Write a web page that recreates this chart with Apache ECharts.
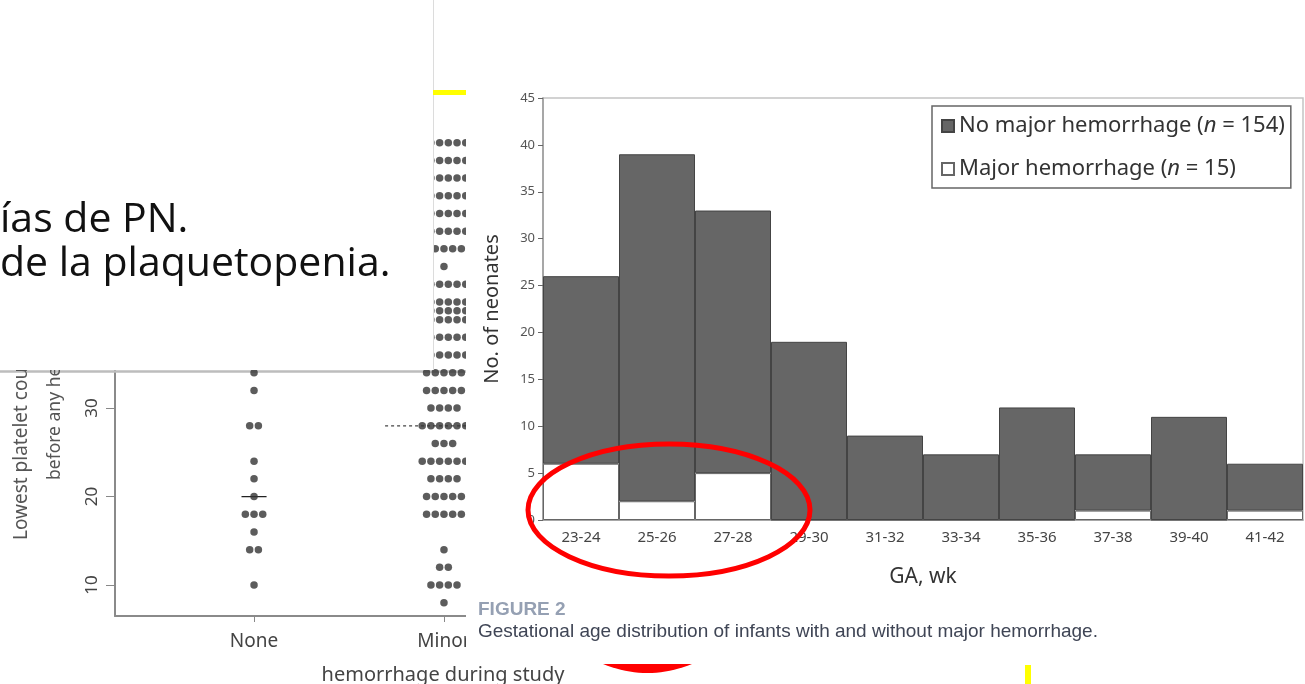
<!DOCTYPE html>
<html><head><meta charset="utf-8">
<script src="https://cdn.jsdelivr.net/npm/echarts@6/dist/echarts.min.js"></script>
<style>html,body{margin:0;padding:0;background:#fff}#c{width:1305px;height:684px}</style>
</head><body><div id="c"></div>
<script>
// ---- Histogram data (Figure 2) ----
const gaBins = ['23-24','25-26','27-28','29-30','31-32','33-34','35-36','37-38','39-40','41-42'];
const noMajor = [20,37,28,19,9,7,12,6,11,5];
const major = [6,2,5,0,0,0,0,1,0,1];
const histYTicks = [0,45,5]; // min, max, step
// ---- Dot plot data (lowest platelet count by hemorrhage group) ----
const dotGroups = ['None','Minor'];
const noneValues = [34,32,28,24,22,20,18,16,14,10];
const noneCounts = [1,1,2,1,1,1,3,1,2,1];
const minorValues = [60,58,56,54,52,50,48,46,44,42,41,40,38,36,34,32,30,28,26,24,22,20,18,14,12,10,8];
const minorCounts = [6,6,6,6,6,6,5,1,6,6,6,6,6,6,5,5,4,6,3,6,4,5,5,1,2,4,1];
const medians = [20,28];
const dotYTicks = [10,20,30,40,50,60];

const sum = a => a.reduce((s,v)=>s+v,0);
const DX = 0.0458;
function swarm(center, vals, counts){
  const out=[];
  vals.forEach((v,i)=>{const n=counts[i];for(let k=0;k<n;k++)out.push([center+(k-(n-1)/2)*DX,v]);});
  return out;
}
const noneDots = swarm(1,noneValues,noneCounts);
const minorDots = swarm(2,minorValues,minorCounts);

// red lens shape (annotation fragment at the bottom)
const lens=[];
for(let i=0;i<=20;i++){const t=i/20;const x=603+(692-603)*t;lens.push([x,664+9*4*t*(1-t)]);}

const chart = echarts.init(document.getElementById('c'));
const nameNo='No major hemorrhage', nameMaj='Major hemorrhage';
const NS='"Noto Sans", "Open Sans", sans-serif';
const LIB='"Liberation Sans", Arial, sans-serif';

chart.setOption({
  animation:false,
  backgroundColor:'#fff',
  grid:[
    {left:115,right:839,top:125,bottom:68},
    {left:543,right:2,top:98,bottom:164,show:true,borderColor:'#c4c4c4',borderWidth:1.5,backgroundColor:'transparent'}
  ],
  legend:{
    data:[nameNo,nameMaj], orient:'vertical', left:932, top:106,
    padding:[9,6,8,9], itemGap:21, itemWidth:12, itemHeight:12, icon:'rect',
    borderColor:'#666', borderWidth:1.5,
    formatter:n=> n===nameNo ? '{t|No major hemorrhage (}{i|n}{t| = '+sum(noMajor)+')}' : '{t|Major hemorrhage (}{i|n}{t| = '+sum(major)+')}',
    textStyle:{rich:{t:{fontSize:22,fontFamily:NS,color:'#333'},i:{fontSize:22,fontFamily:NS,color:'#333',fontStyle:'italic'}}}
  },
  xAxis:[
    {gridIndex:0,type:'value',min:0.268,max:2.116,
     axisLine:{lineStyle:{color:'#8a8a8a',width:2}},
     axisTick:{customValues:[1,2],length:6,lineStyle:{color:'#888'}},
     axisLabel:{customValues:[1,2],formatter:v=>dotGroups[Math.round(v)-1]||'',fontSize:19,fontFamily:NS,color:'#444',margin:16},
     splitLine:{show:false}},
    {gridIndex:1,type:'category',data:gaBins,
     name:'GA, wk',nameLocation:'middle',nameGap:47,nameTextStyle:{fontSize:21,fontFamily:NS,color:'#333'},
     axisLine:{lineStyle:{color:'#999',width:1.5}},
     axisTick:{interval:0,length:7,lineStyle:{color:'#666'}},
     axisLabel:{interval:0,fontSize:15,fontFamily:NS,color:'#444',margin:10}}
  ],
  yAxis:[
    {gridIndex:0,type:'value',min:6.5,max:62,
     axisLine:{show:true,lineStyle:{color:'#8a8a8a',width:2}},
     axisTick:{show:true,customValues:dotYTicks,length:9,lineStyle:{color:'#888'}},
     axisLabel:{customValues:dotYTicks,rotate:90,fontSize:17,fontFamily:NS,color:'#444',margin:14},
     splitLine:{show:false}},
    {gridIndex:1,type:'value',min:histYTicks[0],max:histYTicks[1],interval:histYTicks[2],
     name:'No. of neonates',nameLocation:'middle',nameGap:41,nameTextStyle:{fontSize:20,fontFamily:NS,color:'#333'},
     axisLine:{show:true,lineStyle:{color:'#999',width:1.5}},
     axisTick:{show:true,length:5,lineStyle:{color:'#666'}},
     axisLabel:{fontSize:13,fontFamily:NS,color:'#555',margin:8},
     splitLine:{show:false}}
  ],
  series:[
    {type:'scatter',xAxisIndex:0,yAxisIndex:0,data:noneDots,symbolSize:7.5,itemStyle:{color:'#333'},clip:false},
    {type:'scatter',xAxisIndex:0,yAxisIndex:0,data:minorDots,symbolSize:7.5,itemStyle:{color:'#333'},clip:false},
    {type:'line',xAxisIndex:0,yAxisIndex:0,data:[[1-0.066,medians[0]],[1+0.066,medians[0]]],symbol:'none',lineStyle:{color:'#222',width:1.2},z:1},
    {type:'line',xAxisIndex:0,yAxisIndex:0,data:[[2-0.31,medians[1]],[2+0.31,medians[1]]],symbol:'none',lineStyle:{color:'#444',width:1.2,type:[3,3]},z:1,clip:true},
    {name:nameMaj,type:'bar',xAxisIndex:1,yAxisIndex:1,stack:'ga',data:major,barCategoryGap:'0%',
     itemStyle:{color:'#ffffff',borderColor:'#666',borderWidth:1}},
    {name:nameNo,type:'bar',xAxisIndex:1,yAxisIndex:1,stack:'ga',data:noMajor,barCategoryGap:'0%',
     itemStyle:{color:'#666666',borderColor:'#444',borderWidth:1}}
  ],
  graphic:[
    {type:'text',x:22,y:540,rotation:Math.PI/2,z:10,style:{text:'Lowest platelet count (×10⁹/L)',font:'19px '+NS,fill:'#555',textAlign:'left',textVerticalAlign:'middle'}},
    {type:'text',x:55,y:480,rotation:Math.PI/2,z:10,style:{text:'before any hemorrhage',font:'17.5px '+NS,fill:'#555',textAlign:'left',textVerticalAlign:'middle'}},
    {type:'rect',shape:{x:0,y:0,width:433,height:370},style:{fill:'#fff'},z:50},
    {type:'line',shape:{x1:433.5,y1:0,x2:433.5,y2:370},style:{stroke:'#dcdcdc',lineWidth:1},z:51},
    {type:'line',shape:{x1:0,y1:371.5,x2:466,y2:371.5},style:{stroke:'#bdbdbd',lineWidth:2.5},z:1},
    {type:'rect',shape:{x:466,y:120,width:11,height:540},style:{fill:'#fff'},z:50},
    {type:'text',x:0,y:220,z:60,style:{text:'ías de PN.',font:'41px "Open Sans", sans-serif',fill:'#111',textAlign:'left',textVerticalAlign:'middle'}},
    {type:'text',x:0,y:264,z:60,style:{text:'de la plaquetopenia.',font:'41px "Open Sans", sans-serif',fill:'#111',textAlign:'left',textVerticalAlign:'middle'}},
    {type:'text',x:443,y:675,z:60,style:{text:'hemorrhage during study',font:'20px '+NS,fill:'#444',textAlign:'center',textVerticalAlign:'middle'}},
    {type:'text',x:478,y:610,z:60,style:{text:'FIGURE 2',font:'bold 19px '+LIB,fill:'#95a0b3',textAlign:'left',textVerticalAlign:'middle'}},
    {type:'text',x:478,y:632,z:60,style:{text:'Gestational age distribution of infants with and without major hemorrhage.',font:'19px '+LIB,fill:'#3f4555',textAlign:'left',textVerticalAlign:'middle'}},
    {type:'rect',shape:{x:433,y:90,width:33,height:5},style:{fill:'#ffff00'},z:60},
    {type:'rect',shape:{x:1025,y:665,width:6,height:19},style:{fill:'#ffff00'},z:60},
    {type:'ellipse',shape:{cx:669,cy:510,rx:141,ry:66},style:{fill:null,stroke:'#ff0000',lineWidth:5},z:100},
    {type:'polygon',shape:{points:lens},style:{fill:'#ff0000'},z:100}
  ]
});
</script></body></html>
